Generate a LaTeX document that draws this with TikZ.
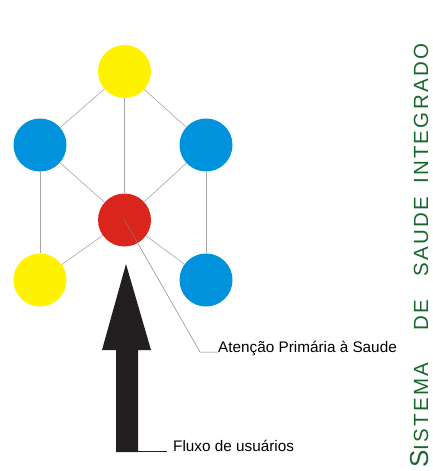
\documentclass[tikz,border=0pt]{standalone}
\usepackage{fontspec}
\setmainfont{Liberation Sans}
\usetikzlibrary{arrows}
\definecolor{amarelo}{RGB}{255,242,0}
\definecolor{azul}{RGB}{0,146,221}
\definecolor{vermelho}{RGB}{218,37,29}
\definecolor{verde}{RGB}{24,104,46}
\definecolor{preto}{RGB}{35,31,32}
\tikzstyle{vertex}=[circle,minimum size=53pt,inner sep=0pt]
\tikzstyle{edge} = [draw,gray!70,line width=0.6pt]
\tikzstyle{leader} = [draw,gray,line width=0.5pt]
\tikzstyle{label} = [inner sep=0pt,anchor=base west,font=\fontsize{15.3}{18}\selectfont]
\tikzstyle{titulo} = [inner sep=0pt,anchor=base west,rotate=90,text=verde,
  font=\fontsize{20.5}{21}\selectfont\addfontfeature{LetterSpace=11}]

\begin{document}
\begin{tikzpicture}[x=1pt,y=-1pt]
				\useasboundingbox (0,0) rectangle (432,471);

				% First we draw the vertices
				\foreach \pos/\name/\cor in {{(124.5,71.5)/top/amarelo}, {(40,145)/ul/azul}, {(206,145)/ur/azul},
										{(124.5,220)/c/vermelho}, {(40,280)/ll/amarelo}, {(206,280)/lr/azul}}
				\node[vertex,fill=\cor] (\name) at \pos {};

				% Connect vertices with edges
				\foreach \source/ \dest in {top/ul, top/ur, top/c, ul/c, ur/c, ul/ll, ur/lr, c/ll, c/lr}
				\path[edge] (\source) -- (\dest);

				% The big arrow
				\fill[preto] (126,264) -- (151,350) -- (138,350) -- (138,452) -- (116,452)
					-- (116,350) -- (102,350) -- cycle;
				\coordinate (shaft) at (138,451);

				% Labels
				\node[label] (aps) at (218,352) {Atenção Primária à Saude};
				\coordinate (bend) at (200,352);
				\path[leader] (c.center) -- (bend) -- (aps.base west);

				\node[label] (fluxo) at (173,451) {Fluxo de usuários};
				\path[leader,preto] (shaft) -- ([xshift=-6pt]fluxo.base west);

				% Vertical title
				\node[titulo] (sistema) at (428,468) {{\fontsize{26}{26}\selectfont S}ISTEMA};
				\node[titulo] (de) at (428,331) {DE};
				\node[titulo] (saude) at (428,277) {SAUDE};
				\node[titulo] (integrado) at (428,184) {INTEGRADO};

			\end{tikzpicture}
\end{document}
